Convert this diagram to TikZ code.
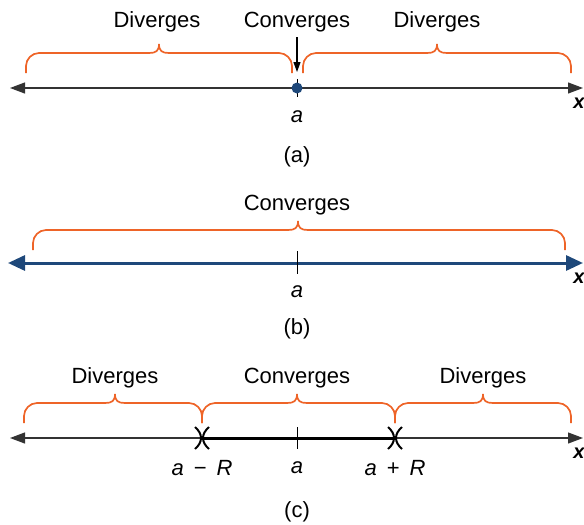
\documentclass[tikz,border=0pt]{standalone}
\usepackage{fontspec}
\setmainfont{Liberation Sans}
\usetikzlibrary{arrows.meta, positioning}
\definecolor{brorange}{RGB}{238,100,40}
\definecolor{axblue}{RGB}{30,72,122}

% orange brace: left end, cusp, right end, height of its bar
\newcommand{\orbrace}[4]{%
  \draw[brc] (#1,#4+20) -- (#1,#4+13)
     .. controls (#1,#4+6) and (#1+6,#4) .. (#1+13,#4)
     -- (#2-10,#4)
     .. controls (#2-3,#4) and (#2,#4-2) .. (#2,#4-9)
     .. controls (#2,#4-2) and (#2+3,#4) .. (#2+10,#4)
     -- (#3-13,#4)
     .. controls (#3-6,#4) and (#3,#4+6) .. (#3,#4+13)
     -- (#3,#4+20);}
% cut mark at an end of the interval
\newcommand{\cutmark}[2]{%
  \draw[cut] (#1-7,#2-11) .. controls (#1+1,#2-4) and (#1+1,#2+4) .. (#1-7,#2+11);
  \draw[cut] (#1+7,#2-11) .. controls (#1-1,#2-4) and (#1-1,#2+4) .. (#1+7,#2+11);}

\begin{document}
\begin{tikzpicture}[x=1pt, y=-1pt,
        lbl/.style={font=\fontsize{22}{26}\selectfont, inner sep=2pt},
        xlbl/.style={font=\fontsize{20}{24}\selectfont\bfseries\itshape, inner sep=0pt},
        brc/.style={draw=brorange, line width=1.7pt},
        axis/.style={draw=black!80, line width=1.2pt,
                     {Triangle[length=15pt, width=11pt]}-{Triangle[length=15pt, width=11pt]}},
        baxis/.style={draw=axblue, line width=3pt,
                     {Triangle[length=17pt, width=15pt]}-{Triangle[length=17pt, width=15pt]}},
        arr/.style={-{Triangle[length=10pt, width=7pt]}, line width=1.1pt},
        cut/.style={line width=2pt},
        dot/.style={circle, fill=axblue, inner sep=0pt, minimum size=11pt},
    ]
    \useasboundingbox (0,0) rectangle (584,525);

    % (a)
    \node[lbl] (divLa) at (157,22) {Diverges};
    \node[lbl] (conva) at (297,22) {Converges};
    \node[lbl] (divRa) at (437,22) {Diverges};
    \orbrace{26}{159}{292}{53}
    \orbrace{303}{437}{571}{53}
    \coordinate (tipa) at (297,72);
    \draw[arr] ([yshift=-3pt]conva.south) -- (tipa);
    \coordinate (la) at (10,88);
    \coordinate (ra) at (583,88);
    \draw[axis] (la) -- (ra);
    \draw[line width=1pt] (297,79) -- (297,97);
    \node[dot] (ctra) at (297,88) {};
    \node[xlbl] (xa) at (579,103) {x};
    \node[lbl] (pa) at (297,117) {\itshape a};
    \node[lbl] (capa) at (297,157) {(a)};

    % (b)
    \node[lbl] (convb) at (297,205) {Converges};
    \orbrace{33}{298}{565}{230}
    \coordinate (lb) at (8,263);
    \coordinate (rb) at (583,263);
    \draw[baxis] (lb) -- (rb);
    \draw[line width=1pt] (297,251) -- (297,274);
    \node[xlbl] (xb) at (579,278) {x};
    \node[lbl] (pb) at (297,292) {\itshape a};
    \node[lbl] (capb) at (297,329) {(b)};

    % (c)
    \node[lbl] (divLc) at (115,378) {Diverges};
    \node[lbl] (convc) at (297,378) {Converges};
    \node[lbl] (divRc) at (483,378) {Diverges};
    \orbrace{24}{115}{202}{403}
    \orbrace{202}{297}{395}{403}
    \orbrace{395}{483}{571}{403}
    \coordinate (lc) at (10,438);
    \coordinate (rc) at (583,438);
    \draw[axis] (lc) -- (rc);
    \coordinate (amr) at (202,438);
    \coordinate (apr) at (395,438);
    \draw[line width=3pt] (amr) -- (apr);
    \draw[line width=1pt] (297,427) -- (297,449);
    \cutmark{202}{438}
    \cutmark{395}{438}
    \node[xlbl] (xc) at (579,453) {x};
    \node[lbl] (pmc) at (202,468) {\itshape a\upshape\hspace{10pt}−\hspace{10pt}\itshape R};
    \node[lbl] (pc) at (297,468) {\itshape a};
    \node[lbl] (ppc) at (395,468) {\itshape a\upshape\hspace{10pt}+\hspace{10pt}\itshape R};
    \node[lbl] (capc) at (297,512) {(c)};
\end{tikzpicture}
\end{document}
